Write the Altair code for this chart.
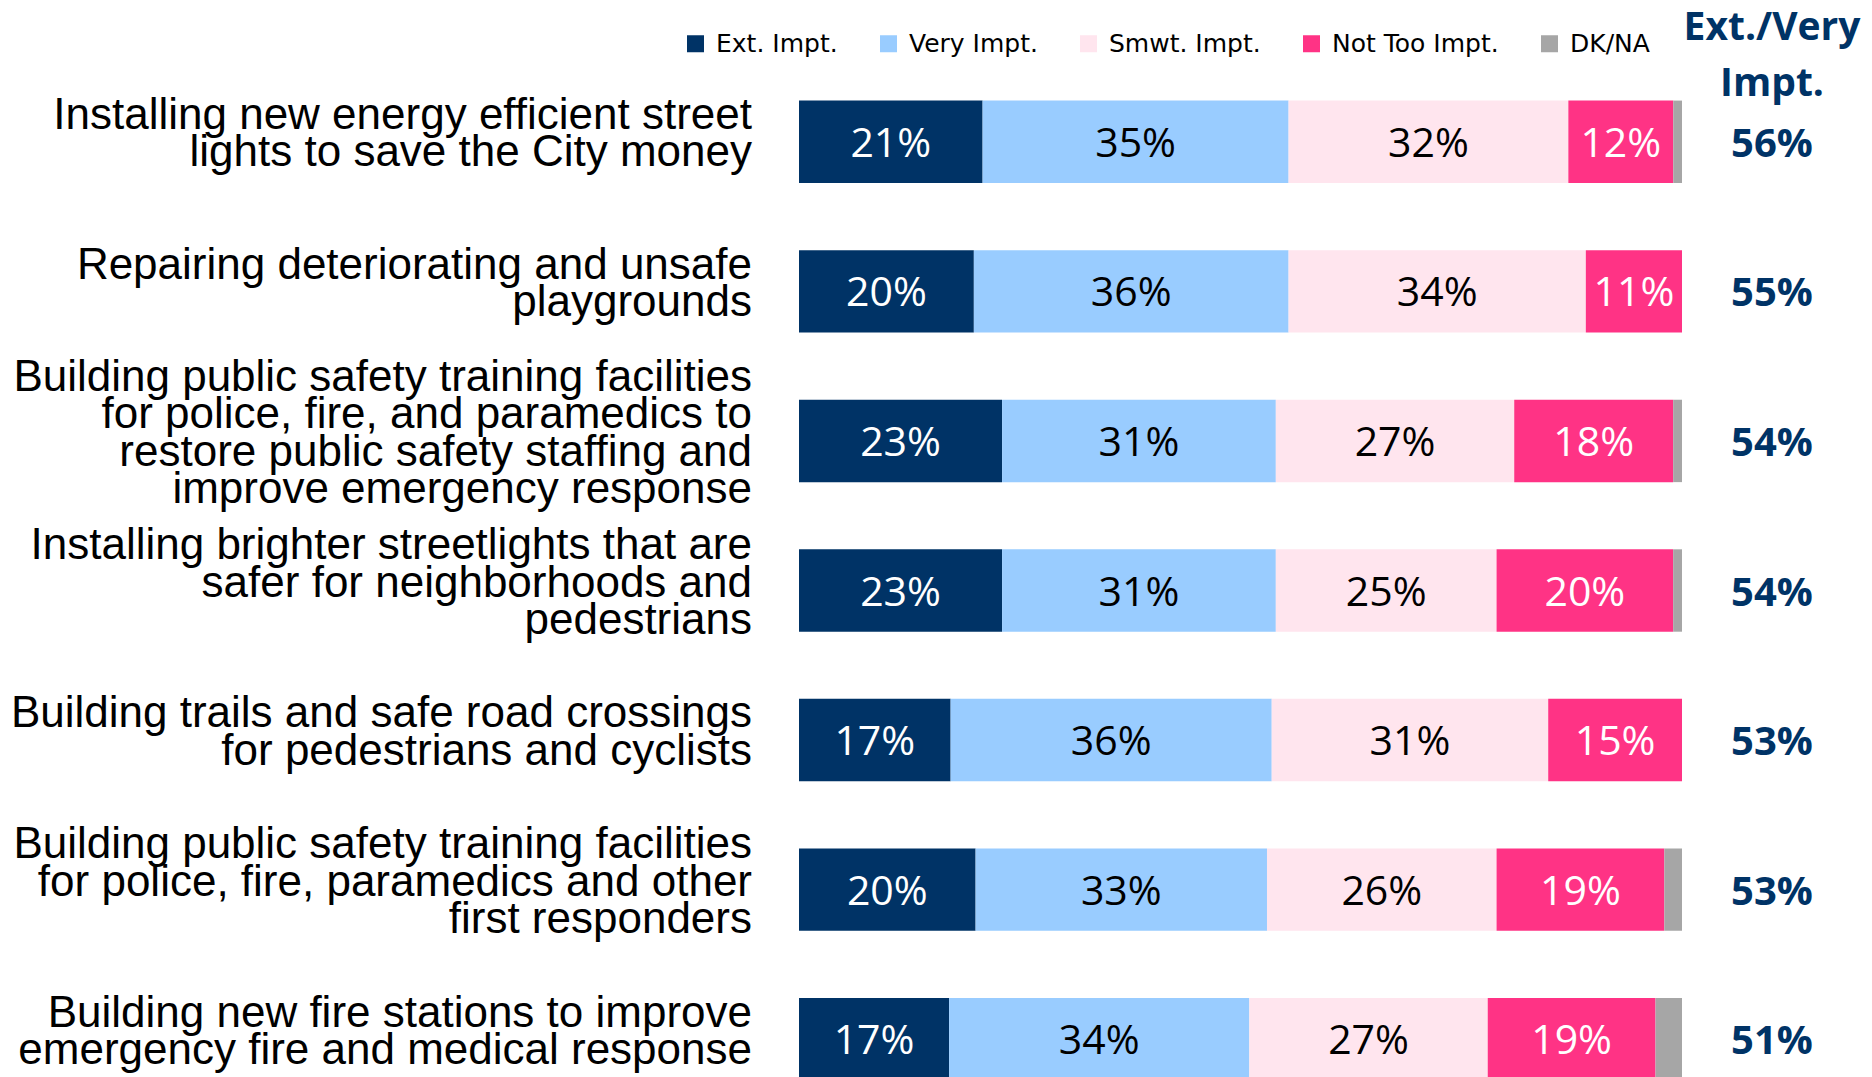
import altair as alt
import pandas as pd

items = [
    "Installing new energy efficient street|lights to save the City money",
    "Repairing deteriorating and unsafe|playgrounds",
    "Building public safety training facilities|for police, fire, and paramedics to|restore public safety staffing and|improve emergency response",
    "Installing brighter streetlights that are|safer for neighborhoods and|pedestrians",
    "Building trails and safe road crossings|for pedestrians and cyclists",
    "Building public safety training facilities|for police, fire, paramedics and other|first responders",
    "Building new fire stations to improve|emergency fire and medical response",
]
series = ["Ext. Impt.", "Very Impt.", "Smwt. Impt.", "Not Too Impt.", "DK/NA"]
ext_impt = [21, 20, 23, 23, 17, 20, 17]
very_impt = [35, 36, 31, 31, 36, 33, 34]
smwt_impt = [32, 34, 27, 25, 31, 26, 27]
not_too_impt = [12, 11, 18, 20, 15, 19, 19]
dk_na = [1, 0, 1, 1, 0, 2, 3]
ext_very_total = [56, 55, 54, 54, 53, 53, 51]

colors = ["#003366", "#99CCFF", "#FFE5EE", "#FF3385", "#A6A6A6"]
text_colors = ["white", "black", "black", "white", "white"]

W, H = 883, 1047
N = len(items)
STEP = H / N
LINE_H = 37.4
BLOCK_SHIFT = -7.0

rows = []
for i, it in enumerate(items):
    vals = [ext_impt[i], very_impt[i], smwt_impt[i], not_too_impt[i], dk_na[i]]
    for j, s in enumerate(series):
        rows.append({"item": it, "series": s, "order": j, "value": vals[j],
                     "label": f"{vals[j]}%" if j < 4 else "",
                     "tcolor": text_colors[j]})
df = pd.DataFrame(rows)
tot = pd.DataFrame({"item": items, "total": [f"{v}%" for v in ext_very_total]})
hdr = pd.DataFrame({"t": [["Ext./Very", "Impt."]]})

# category label lines, positioned in row units (row index + offset within the row)
lab_rows = []
for i, it in enumerate(items):
    lines = it.split("|")
    n = len(lines)
    for k, ln in enumerate(lines):
        pos = i + 0.5 + (BLOCK_SHIFT + (k - (n - 1) / 2) * LINE_H) / STEP
        lab_rows.append({"line": ln, "pos": pos})
labdf = pd.DataFrame(lab_rows)

band_scale = alt.Scale(domain=items, paddingInner=0.449, paddingOuter=0.2245)


def y_enc():
    return alt.Y("item:N", sort=items, title=None, axis=None, scale=band_scale)


base = alt.Chart(df).transform_stack(
    stack="value", as_=["x0", "x1"], groupby=["item"],
    sort=[alt.SortField("order")], offset="normalize"
).transform_calculate(mid="(datum.x0 + datum.x1) / 2")

bars = base.mark_bar(size=82.4).encode(
    x=alt.X("x0:Q", axis=None, scale=alt.Scale(domain=[0, 1], nice=False)),
    x2="x1:Q",
    y=y_enc(),
    color=alt.Color("series:N", sort=series,
                    scale=alt.Scale(domain=series, range=colors),
                    legend=alt.Legend(title=None, orient="none", direction="horizontal",
                                      legendX=-116, legendY=-36,
                                      symbolType="square", symbolSize=289,
                                      symbolStrokeWidth=0, labelFont="DejaVu Sans",
                                      labelFontSize=25, labelColor="black",
                                      labelOffset=8, columnPadding=38, labelLimit=0)),
)

labels = base.mark_text(font="Open Sans", fontSize=41, baseline="middle", align="center",
                        dy=3).encode(
    x=alt.X("mid:Q", axis=None),
    y=y_enc(),
    text="label:N",
    color=alt.Color("tcolor:N", scale=None, legend=None),
)

totals = alt.Chart(tot).mark_text(font="Open Sans", fontWeight="bold", fontSize=40,
                                  color="#003366", baseline="middle", align="center",
                                  dy=3).encode(
    x=alt.value(W + 90),
    y=y_enc(),
    text="total:N",
)

main = alt.layer(bars, labels, totals)

header = alt.Chart(hdr).mark_text(font="Open Sans", fontWeight="bold", fontSize=39,
                                  color="#003366", baseline="middle", align="center",
                                  lineHeight=56).encode(
    x=alt.value(W + 90),
    y=alt.value(-39),
    text="t",
)

cat_labels = alt.Chart(labdf).mark_text(font="Liberation Sans", fontSize=44, color="black",
                                        baseline="middle", align="right").encode(
    x=alt.value(-47),
    y=alt.Y("pos:Q", axis=None, scale=alt.Scale(domain=[0, N], range=[0, H], nice=False, zero=False)),
    text="line:N",
)

chart = alt.layer(main, header, cat_labels).resolve_scale(
    y="independent"
).properties(
    width=W, height=H,
    background="white",
    autosize=alt.AutoSizeParams(type="none"),
    padding={"left": 791, "top": 59, "right": 180, "bottom": 0},
).configure_view(stroke=None)

chart.save("out.html", embed_options={"renderer": "svg", "actions": False})
